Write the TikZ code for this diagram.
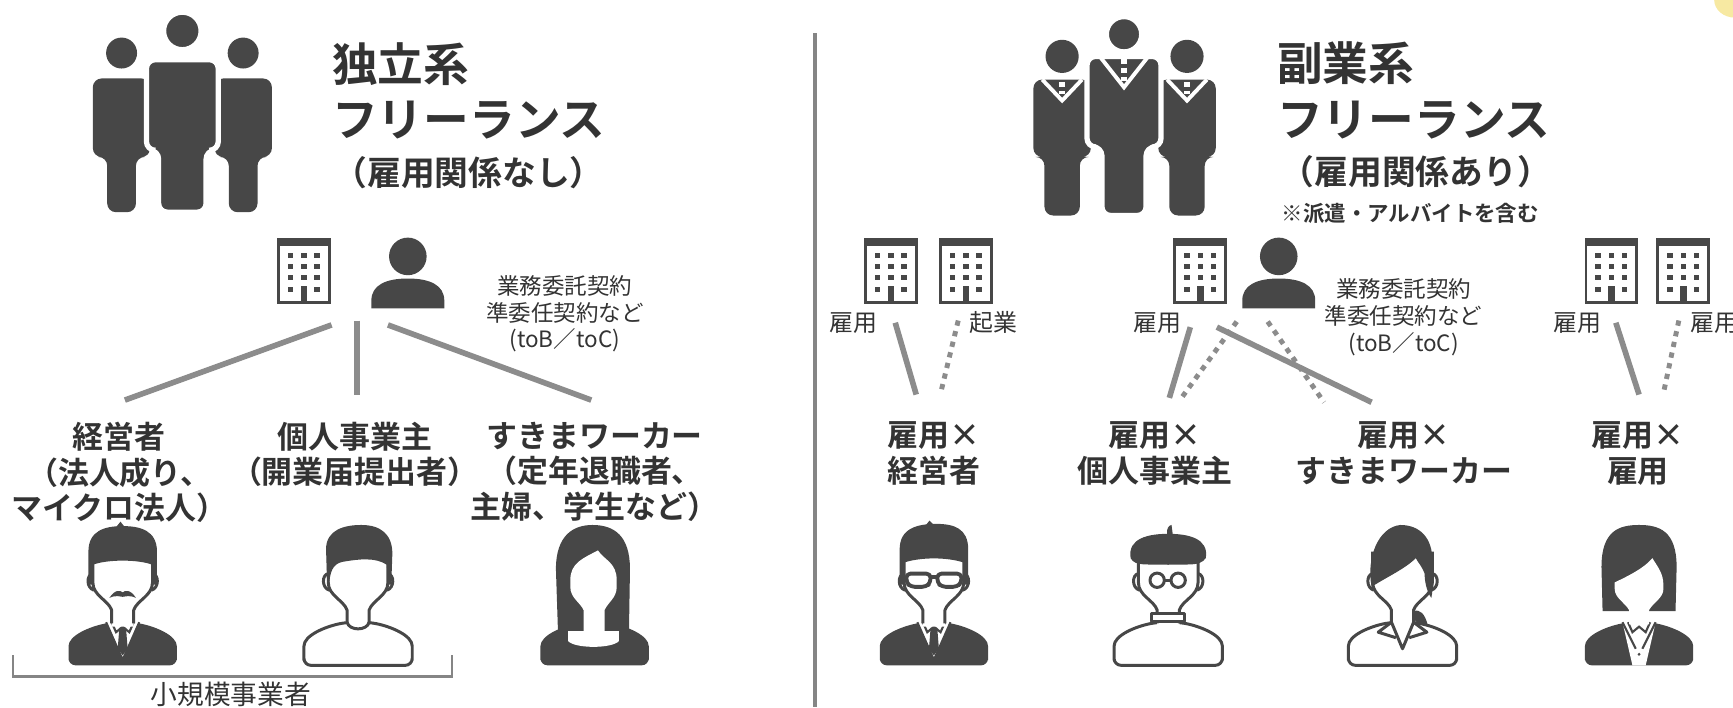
\documentclass[tikz,border=0pt]{standalone}
\usepackage{fontspec}
\setmainfont{Noto Sans CJK JP}[BoldFont={Noto Sans CJK JP Bold}]
\usetikzlibrary{positioning}

\definecolor{inkgray}{HTML}{333333}
\definecolor{icongray}{HTML}{474747}
\definecolor{wiregray}{HTML}{8C8C8C}
\definecolor{rulegray}{HTML}{858585}
\definecolor{lemon}{HTML}{F3E07A}

\tikzset{
  ttl/.style={font=\fontsize{13}{15}\selectfont\bfseries, text=inkgray, inner sep=0pt},
  ttlsub/.style={font=\fontsize{9.6}{11}\selectfont\bfseries, text=inkgray, inner sep=0pt},
  aside/.style={font=\fontsize{6.1}{7}\selectfont\bfseries, text=inkgray, inner sep=0pt},
  kind/.style={font=\fontsize{8.8}{10.2}\selectfont\bfseries, text=inkgray, align=center, inner sep=0pt},
  deal/.style={font=\fontsize{6.4}{7.6}\selectfont, text=inkgray, align=center, inner sep=0pt},
  tag/.style={font=\fontsize{6.8}{7}\selectfont, text=inkgray, inner sep=0pt},
  wire/.style={draw=wiregray, line width=1.6pt},
  dotwire/.style={draw=wiregray, line width=1.4pt, dash pattern=on 1.5pt off 1.6pt},
  outl/.style={draw=icongray, line width=0.85pt, line join=round},
  figedge/.style={},
  % standing figure: head r / torso top / torso half / arm end / leg half / feet
  pics/stander/.style args={#1/#2/#3/#4/#5/#6}{code={
    \path[fill=icongray, figedge] (0,0) circle (#1);
    \path[fill=icongray, figedge, rounded corners=2.5pt] (-#5,#6) -- (-#5,#4) -- (-#3,#4) -- (-#3,#2)
      -- (#3,#2) -- (#3,#4) -- (#5,#4) -- (#5,#6) -- cycle;
  }},
  % collar lines and tie on a standing figure: half width / top / apex
  pics/lapel/.style args={#1/#2/#3}{code={
    \draw[white, line width=1.1pt] (-#1,#2) -- (0,#3) -- (#1,#2);
    \draw[white, line width=1.8pt, dash pattern=on 1.6pt off 1pt] (0,#2+2) -- (0,#3-6);
  }},
  pics/building/.style={code={
    \draw[icongray, line width=0.8pt] (0,0) rectangle (46,57);
    \fill[icongray] (0,0) rectangle (46,6);
    \foreach \r in {14,24,34}
      \foreach \c in {11,23,35}
        \fill[icongray] (\c-2.5,\r-2.5) rectangle ++(5,5);
    \fill[icongray] (8.5,42.5) rectangle ++(5,5);
    \fill[icongray] (32.5,42.5) rectangle ++(5,5);
    \fill[icongray] (20,42) rectangle (26,57);
  }},
  pics/client/.style={code={
    \fill[icongray] (0,0) circle (17);
    \fill[icongray] (-33,47) -- (-33,40) .. controls (-33,26) and (-20,20) .. (0,20)
      .. controls (20,20) and (33,26) .. (33,40) -- (33,47) -- cycle;
  }},
  % avatar parts, origin at the top of the hair
  pics/bust/.style={code={
    \path[#1, rounded corners=2pt] (-49,127) -- (-49,116) .. controls (-49,100) and (-30,92) .. (-10,88)
      -- (10,88) .. controls (30,92) and (49,100) .. (49,116) -- (49,127) -- cycle;
  }},
  pics/face/.style={code={
    \path[fill=white, outl] (-27,44) .. controls (-33,45) and (-33,57) .. (-26,59);
    \path[fill=white, outl] (27,44) .. controls (33,45) and (33,57) .. (26,59);
    \fill[white] (-27,24) -- (-27,52) .. controls (-27,64) and (-13,68) .. (-10,77) -- (-10,92)
      -- (10,92) -- (10,77) .. controls (13,68) and (27,64) .. (27,52) -- (27,24) -- cycle;
    \draw[outl] (-27,24) -- (-27,52) .. controls (-27,64) and (-13,68) .. (-10,77) -- (-10,89);
    \draw[outl] (27,24) -- (27,52) .. controls (27,64) and (13,68) .. (10,77) -- (10,89);
  }},
  pics/crop/.style={code={
    \fill[icongray] (-31,54) -- (-31,24) .. controls (-31,5) and (-16,1) .. (0,1) .. controls (16,1) and (31,5) .. (31,24)
      -- (31,54) -- (27,54) -- (27,36) .. controls (14,31) and (-14,31) .. (-27,36) -- (-27,54) -- cycle;
    \fill[icongray] (-6,2) -- (-2,-3) -- (2,2) -- cycle;
  }},
  pics/suitfront/.style={code={
    \fill[white] (-15,88) -- (15,88) -- (0,122) -- cycle;
    \draw[icongray, line width=0.6pt] (-15,88) -- (0,122) -- (15,88);
    \draw[icongray, line width=0.6pt] (-10,88) -- (-6,97) -- (0,92) -- (6,97) -- (10,88);
    \fill[icongray] (-3,93) -- (3,93) -- (4.5,112) -- (0,118) -- (-4.5,112) -- cycle;
  }},
  pics/boss/.style={code={
    \pic {bust={fill=icongray}};
    \pic {suitfront};
    \pic {face};
    \pic {crop};
    \fill[icongray] (-12,66) .. controls (-7,58) and (-2,59) .. (0,61) .. controls (2,59) and (7,58) .. (12,66)
      .. controls (6,63) and (2,65) .. (0,65) .. controls (-2,65) and (-6,63) .. (-12,66) -- cycle;
  }},
  pics/plainman/.style={code={
    \pic {bust={fill=white, outl}};
    \pic {face};
    \draw[outl] (-10,88) .. controls (-8,96) and (8,96) .. (10,88);
    \fill[icongray] (-28,52) -- (-29,22) .. controls (-29,4) and (-12,0) .. (3,0) .. controls (20,0) and (31,8) .. (31,26)
      -- (30,54) -- (27,54) -- (26,36) .. controls (16,29) and (0,31) .. (-12,33) .. controls (-20,34) and (-25,38) .. (-26,52) -- cycle;
  }},
  pics/longhair/.style={code={
    \fill[icongray] (-33,101) -- (-35,40) .. controls (-35,8) and (-18,0) .. (-2,0) .. controls (18,0) and (32,10) .. (32,40) -- (31,101) -- cycle;
    \pic {bust={fill=icongray}};
    \fill[white] (-24,96) -- (22,96) -- (22,105) .. controls (16,112) and (-18,112) .. (-24,105) -- cycle;
    \fill[white] (-22,50) .. controls (-22,34) and (-10,30) .. (3,23) .. controls (9,32) and (20,34) .. (20,50) -- (20,56)
      .. controls (20,66) and (12,70) .. (9,77) -- (9,100) -- (-10,100) -- (-10,77) .. controls (-13,70) and (-22,66) .. (-22,56) -- cycle;
  }},
  pics/specs/.style={code={
    \pic {bust={fill=icongray}};
    \pic {suitfront};
    \pic {face};
    \fill[icongray] (-31,54) -- (-31,22) .. controls (-31,3) and (-15,-1) .. (2,-1) .. controls (18,-1) and (31,3) .. (31,22)
      -- (31,54) -- (27,54) -- (27,34) .. controls (12,29) and (-12,29) .. (-27,34) -- (-27,54) -- cycle;
    \fill[icongray] (-8,1) -- (-4,-4) -- (0,0) -- cycle;
    \path[fill=white, outl, line width=1.1pt, rounded corners=1.2pt] (-25,44) -- (-3,44) -- (-3,52) -- (-7,56) -- (-21,56) -- (-25,52) -- cycle;
    \path[fill=white, outl, line width=1.1pt, rounded corners=1.2pt] (25,44) -- (3,44) -- (3,52) -- (7,56) -- (21,56) -- (25,52) -- cycle;
    \draw[outl, line width=1.1pt] (-3,47) -- (3,47);
  }},
  pics/artist/.style={code={
    \pic {bust={fill=white, outl}};
    \pic {face};
    \path[fill=white, outl] (-15,80) rectangle (15,87);
    \fill[icongray] (-34,30) .. controls (-37,12) and (-18,8) .. (0,8) .. controls (18,8) and (37,12) .. (34,30)
      .. controls (28,38) and (18,35) .. (0,36) .. controls (-18,35) and (-30,38) .. (-34,30) -- cycle;
    \fill[icongray] (-1,9) .. controls (-2,3) and (1,0) .. (3,0) .. controls (3,3) and (4,5) .. (4,9) -- cycle;
    \draw[outl, fill=white] (-10,50) circle (6.5) (9,50) circle (6.5);
    \draw[outl] (-3.5,50) -- (2.5,50);
  }},
  pics/pony/.style={code={
    \pic {bust={fill=white, outl}};
    \pic {face};
    \draw[outl] (-10,88) -- (0,112) -- (10,88);
    \draw[outl] (-10,88) -- (-22,97) -- (-6,102);
    \draw[outl] (10,88) -- (22,97) -- (6,102);
    \fill[icongray] (-28,56) .. controls (-33,30) and (-22,2) .. (-2,0) .. controls (16,0) and (27,12) .. (27,32)
      .. controls (27,46) and (28,58) .. (26,66) .. controls (22,60) and (20,52) .. (20,44)
      .. controls (18,38) and (14,34) .. (12,30) .. controls (2,40) and (-16,48) .. (-28,56) -- cycle;
    \fill[icongray] (10,78) .. controls (16,76) and (20,80) .. (23,91) .. controls (19,92) and (13,89) .. (10,85) -- cycle;
  }},
  pics/bob/.style={code={
    \fill[icongray] (-33,78) -- (-34,38) .. controls (-34,5) and (-18,0) .. (0,0) .. controls (18,0) and (34,5) .. (34,38) -- (33,78) -- cycle;
    \pic {bust={fill=icongray}};
    \fill[white] (-15,88) -- (15,88) -- (6,127) -- (-6,127) -- cycle;
    \draw[icongray, line width=0.6pt] (-15,88) -- (-3,112) (15,88) -- (3,112);
    \draw[icongray, line width=0.6pt] (-10,88) -- (-6,97) -- (0,92) -- (6,97) -- (10,88);
    \fill[icongray] (0,117) circle (1.4);
    \fill[white] (-22,52) .. controls (-14,48) and (4,40) .. (12,30) .. controls (17,38) and (22,44) .. (22,54) -- (22,58)
      .. controls (22,66) and (13,70) .. (9,77) -- (9,90) -- (-9,90) -- (-9,77) .. controls (-13,70) and (-22,66) .. (-22,58) -- cycle;
  }},
}

\begin{document}
\begin{tikzpicture}[x=0.011052cm, y=-0.011052cm]
\useasboundingbox (0,0) rectangle (1568,640);
\clip (0,0) rectangle (1568,640);

%% independent freelancers
\pic (crowdL) at (110,48) {stander={14/23/26/94/13/144}};
\pic (crowdR) at (220,48) {stander={14/23/26/94/13/144}};
\pic[figedge/.style={draw=white, line width=1.5pt}] (crowdC) at (165,28) {stander={17/26/32.5/108/21.5/164}};

\node[ttl, anchor=west] (indep) at (300,58) {独立系};
\node[ttl, anchor=west] (indepfl) at (300,109) {フリーランス};
\node[ttlsub] (indepnote) at (424,156) {（雇用関係なし）};

\pic (bldA) at (252,217) {building};
\pic (cliA) at (369,232) {client};
\node[deal] (dealA) at (511,284) {業務委託契約\\準委任契約など\\(toB／toC)};

\coordinate (hubA1) at (300,294);
\coordinate (hubA2) at (323,290);
\coordinate (hubA3) at (351,294);
\coordinate (endA1) at (113,362);
\coordinate (endA2) at (323,357);
\coordinate (endA3) at (535,362);
\draw[wire] (hubA1) -- (endA1);
\draw[wire] (hubA2) -- (endA2);
\draw[wire] (hubA3) -- (endA3);

\node[kind, anchor=north] (boss) at (108,381) {経営者\\（法人成り、\\マイクロ法人）};
\node[kind, anchor=north] (sole) at (321,381) {個人事業主\\（開業届提出者）};
\node[kind, anchor=north] (spare) at (538,381) {すきまワーカー\\（定年退職者、\\主婦、学生など）};

\pic (avA1) at (111,475) {boss};
\pic (avA2) at (324,475) {plainman};
\pic (avA3) at (538,475) {longhair};

\coordinate (brL) at (12,593);
\coordinate (brR) at (409,593);
\draw[rulegray, line width=0.7pt] (brL) -- ++(0,19) -| (brR);
\node[font=\fontsize{7.6}{8}\selectfont, text=inkgray, inner sep=0pt] (smallbiz) at (209,628) {小規模事業者};

%% divider
\coordinate (divtop) at (737.5,30);
\coordinate (divbot) at (737.5,640);
\draw[rulegray, line width=1.2pt] (divtop) -- (divbot);

%% side-job freelancers
\pic (suitL) at (961,51) {stander={15/21/26/91/16/144}};
\pic at (961,51) {lapel={18/21/40}};
\pic (suitR) at (1074,51) {stander={15/21/26/91/16/144}};
\pic at (1074,51) {lapel={18/21/40}};
\pic[figedge/.style={draw=white, line width=1.5pt}] (suitC) at (1017,31) {stander={16/20/33.5/102/20/164}};
\pic at (1017,31) {lapel={22/20/48}};

\node[ttl, anchor=west] (side) at (1155,57) {副業系};
\node[ttl, anchor=west] (sidefl) at (1155,109) {フリーランス};
\node[ttlsub] (sidenote) at (1281,155) {（雇用関係あり）};
\node[aside] (sideincl) at (1276,193) {※派遣・アルバイトを含む};

\pic (bldB1) at (783,217) {building};
\pic (bldB2) at (851,217) {building};
\pic (bldB3) at (1063,217) {building};
\pic (cliB) at (1157,232) {client};
\pic (bldB4) at (1435,217) {building};
\pic (bldB5) at (1500,217) {building};

\node[tag] (tagB1) at (772,292) {雇用};
\node[tag] (tagB2) at (899,292) {起業};
\node[tag] (tagB3) at (1047,292) {雇用};
\node[tag] (tagB4) at (1427,292) {雇用};
\node[tag] (tagB5) at (1551,292) {雇用};
\node[deal] (dealB) at (1270,287) {業務委託契約\\準委任契約など\\(toB／toC)};

\coordinate (hubB1) at (810,292);   \coordinate (endB1) at (829,357);
\coordinate (hubB2) at (867,290);   \coordinate (endB2) at (851,356);
\coordinate (hubB3) at (1077,296);  \coordinate (endB3) at (1058,360);
\coordinate (hubB4) at (1119,291);  \coordinate (endB4) at (1069,360);
\coordinate (hubB5) at (1101,296);  \coordinate (endB5) at (1241,364);
\coordinate (hubB6) at (1147,291);  \coordinate (endB6) at (1198,364);
\coordinate (hubB7) at (1462,292);  \coordinate (endB7) at (1483,357);
\coordinate (hubB8) at (1519,290);  \coordinate (endB8) at (1505,356);
\draw[dotwire] (hubB2) -- (endB2);
\draw[dotwire] (hubB4) -- (endB4);
\draw[dotwire] (hubB6) -- (endB6);
\draw[dotwire] (hubB8) -- (endB8);
\draw[wire] (hubB1) -- (endB1);
\draw[wire] (hubB3) -- (endB3);
\draw[wire] (hubB5) -- (endB5);
\draw[wire] (hubB7) -- (endB7);

\node[kind, anchor=north] (mixboss) at (845,381) {雇用×\\経営者};
\node[kind, anchor=north] (mixsole) at (1045,381) {雇用×\\個人事業主};
\node[kind, anchor=north] (mixspare) at (1270,381) {雇用×\\すきまワーカー};
\node[kind, anchor=north] (mixjob) at (1482,381) {雇用×\\雇用};

\pic (avB1) at (845,475) {specs};
\pic (avB2) at (1057,475) {artist};
\pic (avB3) at (1269,475) {pony};
\pic (avB4) at (1483,475) {bob};

\fill[lemon, opacity=0.7] (1570,0) ellipse (19 and 16);
\end{tikzpicture}
\end{document}
